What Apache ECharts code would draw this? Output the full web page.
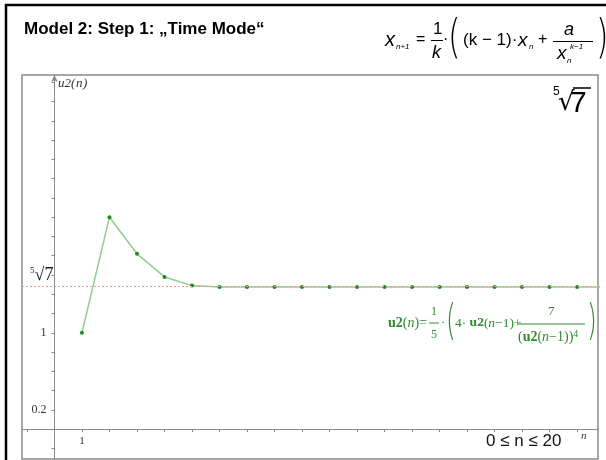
<!DOCTYPE html>
<html>
<head>
<meta charset="utf-8">
<script src="https://cdn.jsdelivr.net/npm/echarts@6/dist/echarts.min.js"></script>
<style>
  html, body { margin: 0; padding: 0; background: #fff; }
  #chart { width: 606px; height: 460px; }
</style>
</head>
<body>
<div id="chart"></div>
<script>
// sequence u2(n)
const nValues = [1, 2, 3, 4, 5, 6, 7, 8, 9, 10, 11, 12, 13, 14, 15, 16, 17, 18, 19, 20];
const u2Values = [1, 2.2, 1.82, 1.58, 1.49, 1.476, 1.476, 1.476, 1.476, 1.476,
                  1.476, 1.476, 1.476, 1.476, 1.476, 1.476, 1.476, 1.476, 1.476, 1.476];
const limitValue = 1.476; // fifth root of 7

const xTickValues = [-1, 0, 1, 2, 3, 4, 5, 6, 7, 8, 9, 10, 11, 12, 13, 14, 15, 16, 17, 18, 19];
const xLabelValues = [1];
const yTickValues = [-0.2, 0, 0.2, 0.4, 0.6, 0.8, 1, 1.2, 1.4, 1.6, 1.8, 2, 2.2, 2.4,
                     2.6, 2.8, 3, 3.2, 3.4, 3.6];
const yLabelValues = [0.2, 1];

const green = '#2e8b2e';
const arial = '"Liberation Sans", Arial, sans-serif';
const serif = '"Liberation Serif", "Times New Roman", serif';

// plot window
const W = 606, H = 460;
const gridBox = { left: 22, top: 75, right: 8, bottom: 1 };
const xMin = -1.18, xMax = 19.76;
const yMin = -0.31, yMax = 3.676;
// axes cross at the origin: shift them in from the grid edges
const gridW = W - gridBox.left - gridBox.right;
const gridH = H - gridBox.top - gridBox.bottom;
const yAxisShift = -(0 - xMin) / (xMax - xMin) * gridW;
const xAxisShift = -(0 - yMin) / (yMax - yMin) * gridH;

function txt(text, x, y, font, fill, extra) {
  return Object.assign({
    type: 'text', silent: true,
    style: { text: text, x: x, y: y, font: font, fill: fill || '#000',
             align: 'left', verticalAlign: 'middle' }
  }, extra || {});
}
function bar(x1, y, x2, color, w) {
  return { type: 'line', silent: true,
    shape: { x1: x1, y1: y, x2: x2, y2: y },
    style: { stroke: color || '#000', lineWidth: w || 1 } };
}

const graphics = [
  // slide border
  { type: 'rect', silent: true, shape: { x: 6, y: 5, width: 640, height: 500 },
    style: { fill: 'none', stroke: '#000', lineWidth: 2.5 } },
  txt('Model 2: Step 1: \u201ETime Mode\u201C', 24, 29, 'bold 17px ' + arial),

  // x_{n+1} = 1/k * ((k-1) x_n + a / x_n^{k-1})
  txt('x', 385, 40, 'italic 20px ' + arial),
  txt('n+1', 396, 47, 'italic 8px ' + arial),
  txt('=', 416, 40, '16px ' + arial),
  txt('1', 433, 29, '17px ' + arial),
  bar(431, 40.5, 443),
  txt('k', 432, 53, 'italic 18px ' + arial),
  txt('\u00B7', 443, 40, '16px ' + arial),
  txt('(', 448, 40, '200 46px "DejaVu Sans", sans-serif', '#000', { scaleX: 0.7, originX: 448 }),
  txt('(k \u2212 1)\u00B7', 463, 40, '17px ' + arial),
  txt('x', 518, 41, 'italic 19px ' + arial),
  txt('n', 529, 47, 'italic 8px ' + arial),
  txt('+', 538, 40, '16px ' + arial),
  txt('a', 564, 30, 'italic 18px ' + arial),
  bar(553, 41.5, 593),
  txt('x', 557, 54, 'italic 19px ' + arial),
  txt('n', 567, 61, 'italic 8px ' + arial),
  txt('k\u22121', 570, 47, 'italic 8px ' + arial),
  txt(')', 596, 40, '200 46px "DejaVu Sans", sans-serif', '#000', { scaleX: 0.7, originX: 596 }),

  // fifth root of 7, top right
  txt('5', 553, 92, '12px ' + arial),
  txt('\u221A', 558, 103, '26px "DejaVu Sans", sans-serif'),
  bar(573, 88, 591, '#000', 1.5),
  txt('7', 570, 104, '30px ' + arial),

  // axis names
  txt('u2(', 58, 84, 'italic 13px ' + serif, '#333'),
  txt('n', 76, 84, 'italic 13px ' + serif, '#333'),
  txt(')', 83, 84, 'italic 13px ' + serif, '#333'),
  txt('n', 581, 436, 'italic 11px ' + serif, '#333'),
  txt('0 \u2264 n \u2264 20', 486, 441, '17px ' + arial, '#111'),

  // green recursion formula
  {
    type: 'text', silent: true,
    style: {
      x: 388, y: 323, verticalAlign: 'middle', fill: green,
      text: '{b|u2}{r|(}{i|n}{r|)=}',
      rich: {
        b: { font: 'bold 14px ' + serif, fill: green },
        r: { font: '14px ' + serif, fill: green },
        i: { font: 'italic 14px ' + serif, fill: green }
      }
    }
  },
  txt('1', 431, 312, '12px ' + serif, green),
  bar(429, 323, 439, green),
  txt('5', 431, 335, '12px ' + serif, green),
  txt('\u00B7', 441, 323, '13px ' + serif, green),
  txt('(', 446, 324, '200 42px "DejaVu Sans", sans-serif', green, { scaleX: 0.6, originX: 446 }),
  {
    type: 'text', silent: true,
    style: {
      x: 455, y: 323, verticalAlign: 'middle', fill: green,
      text: '{r|4\u00B7 }{b|u2}{r|(}{i|n}{r|\u22121)+}',
      rich: {
        b: { font: 'bold 13.5px ' + serif, fill: green },
        r: { font: '13.5px ' + serif, fill: green },
        i: { font: 'italic 13.5px ' + serif, fill: green }
      }
    }
  },
  txt('7', 548, 312, '13px ' + serif, green),
  bar(518, 324, 585, green),
  {
    type: 'text', silent: true,
    style: {
      x: 518, y: 337, verticalAlign: 'middle', fill: green,
      text: '{r|(}{b|u2}{r|(}{i|n}{r|\u22121))}{s|4}',
      rich: {
        b: { font: 'bold 14px ' + serif, fill: green },
        r: { font: '14px ' + serif, fill: green },
        i: { font: 'italic 14px ' + serif, fill: green },
        s: { font: '10px ' + serif, fill: green, verticalAlign: 'top', padding: [0, 0, 6, 0] }
      }
    }
  },
  txt(')', 587, 324, '200 42px "DejaVu Sans", sans-serif', green, { scaleX: 0.6, originX: 587 })
];

const chart = echarts.init(document.getElementById('chart'));

chart.setOption({
  animation: false,
  grid: Object.assign({
    show: true, borderColor: '#8a8a8a', borderWidth: 1.5,
    outerBoundsMode: 'none', containLabel: false
  }, gridBox),
  xAxis: {
    type: 'value',
    min: xMin, max: xMax,
    position: 'bottom', offset: xAxisShift,
    axisLine: { onZero: false, lineStyle: { color: '#8a8a8a', width: 1 } },
    axisTick: { customValues: xTickValues, length: 3, lineStyle: { color: '#8a8a8a' } },
    axisLabel: {
      customValues: xLabelValues, margin: 6,
      fontFamily: serif, fontSize: 11, color: '#333'
    },
    splitLine: { show: false }
  },
  yAxis: {
    type: 'value',
    min: yMin, max: yMax,
    position: 'left', offset: yAxisShift,
    axisLine: {
      onZero: false, symbol: ['none', 'arrow'], symbolSize: [5, 7],
      lineStyle: { color: '#8a8a8a', width: 1 }
    },
    axisTick: { customValues: yTickValues, length: 3, lineStyle: { color: '#8a8a8a' } },
    axisLabel: {
      customValues: yLabelValues, margin: 8,
      fontFamily: serif, color: '#333', fontSize: 12,
      formatter: v => String(v)
    },
    splitLine: { show: false }
  },
  series: [{
    type: 'line',
    data: nValues.map((n, i) => [n, u2Values[i]]),
    symbol: 'circle', symbolSize: 4,
    itemStyle: { color: '#1c8a1c' },
    lineStyle: { color: '#92cc92', width: 1.5 },
    clip: true,
    markLine: {
      silent: true,
      symbol: ['none', 'none'],
      data: [{ yAxis: limitValue }],
      lineStyle: { color: '#f29a9a', type: [2, 2], width: 1 },
      label: {
        position: 'insideStartTop',
        distance: [8, 2],
        formatter: '{s|5}{r|\u221A7}',
        rich: {
          s: { fontSize: 9, fontFamily: serif, color: '#222', verticalAlign: 'top', padding: [0, 0, 9, 0] },
          r: { fontSize: 18, fontFamily: serif, color: '#222' }
        }
      },
      emphasis: { disabled: true }
    }
  }],
  graphic: graphics
});
</script>
</body>
</html>
